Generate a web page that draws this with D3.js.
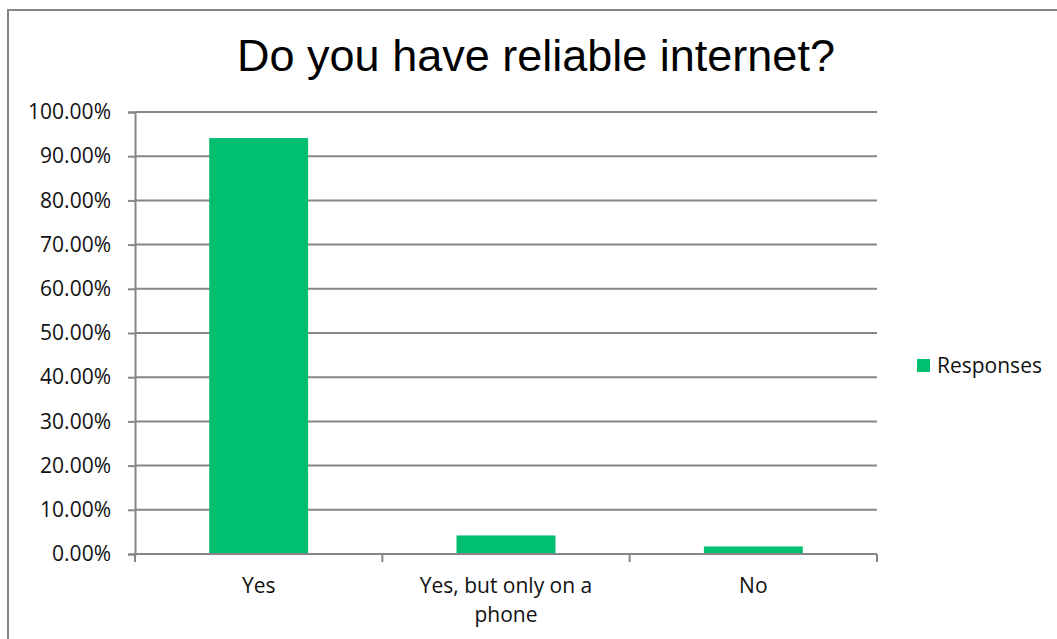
<!DOCTYPE html>
<html>
<head>
<meta charset="utf-8">
<script src="https://cdn.jsdelivr.net/npm/d3@7"></script>
<style>
  html, body { margin: 0; padding: 0; background: #fff; }
  svg { display: block; }
</style>
</head>
<body>
<svg id="chart" width="1057" height="639"></svg>
<script>
// Survey results
const categories = ["Yes", "Yes, but only on a phone", "No"];
const responses = [0.941, 0.042, 0.017];
const seriesName = "Responses";
const titleText = "Do you have reliable internet?";
const yTicks = [0, 0.1, 0.2, 0.3, 0.4, 0.5, 0.6, 0.7, 0.8, 0.9, 1.0];

const svg = d3.select("#chart");
const W = 1057, H = 639;
const margin = { left: 135, right: W - 877, top: 112, bottom: H - 554 };
const axisColor = "#868686";
const barColor = "#00BF6F";
const textColor = "#111";
const labelFont = "'Open Sans', Lato, sans-serif";
const labelSize = "21px";

// chart frame
svg.append("rect")
  .attr("x", 8).attr("y", 10)
  .attr("width", W + 20).attr("height", H + 20)
  .attr("fill", "#fff")
  .attr("stroke", axisColor).attr("stroke-width", 2);

const x = d3.scaleBand()
  .domain(categories)
  .range([margin.left, W - margin.right])
  .paddingInner(0.6).paddingOuter(0.3);

const y = d3.scaleLinear()
  .domain([0, 1])
  .range([H - margin.bottom, margin.top]);

// gridlines
svg.append("g")
  .selectAll("line")
  .data(yTicks.slice(1))
  .join("line")
  .attr("x1", margin.left).attr("x2", W - margin.right)
  .attr("y1", d => y(d)).attr("y2", d => y(d))
  .attr("stroke", axisColor).attr("stroke-width", 2);

// bars
svg.append("g")
  .selectAll("rect")
  .data(categories)
  .join("rect")
  .attr("x", d => x(d))
  .attr("width", x.bandwidth())
  .attr("y", (d, i) => y(responses[i]))
  .attr("height", (d, i) => y(0) - y(responses[i]))
  .attr("fill", barColor);

// y axis
const yAxis = svg.append("g")
  .attr("transform", `translate(${margin.left},0)`)
  .call(d3.axisLeft(y).tickValues(yTicks).tickFormat(d => d3.format(".2f")(d * 100) + "%").tickSize(7).tickPadding(17));
yAxis.select(".domain").attr("stroke", axisColor).attr("stroke-width", 2);
yAxis.selectAll(".tick line").attr("stroke", axisColor).attr("stroke-width", 2);
yAxis.selectAll(".tick text")
  .attr("fill", textColor)
  .style("font-family", labelFont)
  .style("font-size", labelSize);

// x axis with boundary ticks between categories
const xAxisG = svg.append("g").attr("transform", `translate(0,${y(0)})`);
xAxisG.append("line")
  .attr("x1", margin.left).attr("x2", W - margin.right)
  .attr("stroke", axisColor).attr("stroke-width", 2);
const step = (W - margin.right - margin.left) / categories.length;
xAxisG.selectAll("line.tick")
  .data(d3.range(categories.length + 1))
  .join("line")
  .attr("class", "tick")
  .attr("x1", i => margin.left + i * step).attr("x2", i => margin.left + i * step)
  .attr("y1", 0).attr("y2", 8)
  .attr("stroke", axisColor).attr("stroke-width", 2);

// category labels, wrapped to the band width
const maxLabelWidth = step * 0.8;
categories.forEach((c, i) => {
  const cx = margin.left + (i + 0.5) * step;
  const t = svg.append("text")
    .attr("x", cx).attr("y", 593)
    .attr("text-anchor", "middle")
    .style("font-family", labelFont)
    .style("font-size", labelSize)
    .attr("fill", textColor);
  const words = c.split(" ");
  let line = [];
  let tspan = t.append("tspan").attr("x", cx).attr("dy", 0);
  words.forEach(w => {
    line.push(w);
    tspan.text(line.join(" "));
    if (tspan.node().getComputedTextLength() > maxLabelWidth && line.length > 1) {
      line.pop();
      tspan.text(line.join(" "));
      line = [w];
      tspan = t.append("tspan").attr("x", cx).attr("dy", 29).text(w);
    }
  });
});

// title
svg.append("text")
  .attr("x", 536).attr("y", 71)
  .attr("text-anchor", "middle")
  .style("font-family", "'Liberation Sans', Arial, sans-serif")
  .style("font-size", "45px")
  .attr("fill", "#000")
  .text(titleText);

// legend
const legend = svg.append("g").attr("transform", "translate(917,359)");
legend.append("rect").attr("width", 13).attr("height", 13).attr("fill", barColor);
legend.append("text")
  .attr("x", 20).attr("y", 14)
  .style("font-family", labelFont)
  .style("font-size", labelSize)
  .attr("fill", textColor)
  .text(seriesName);
</script>
</body>
</html>
